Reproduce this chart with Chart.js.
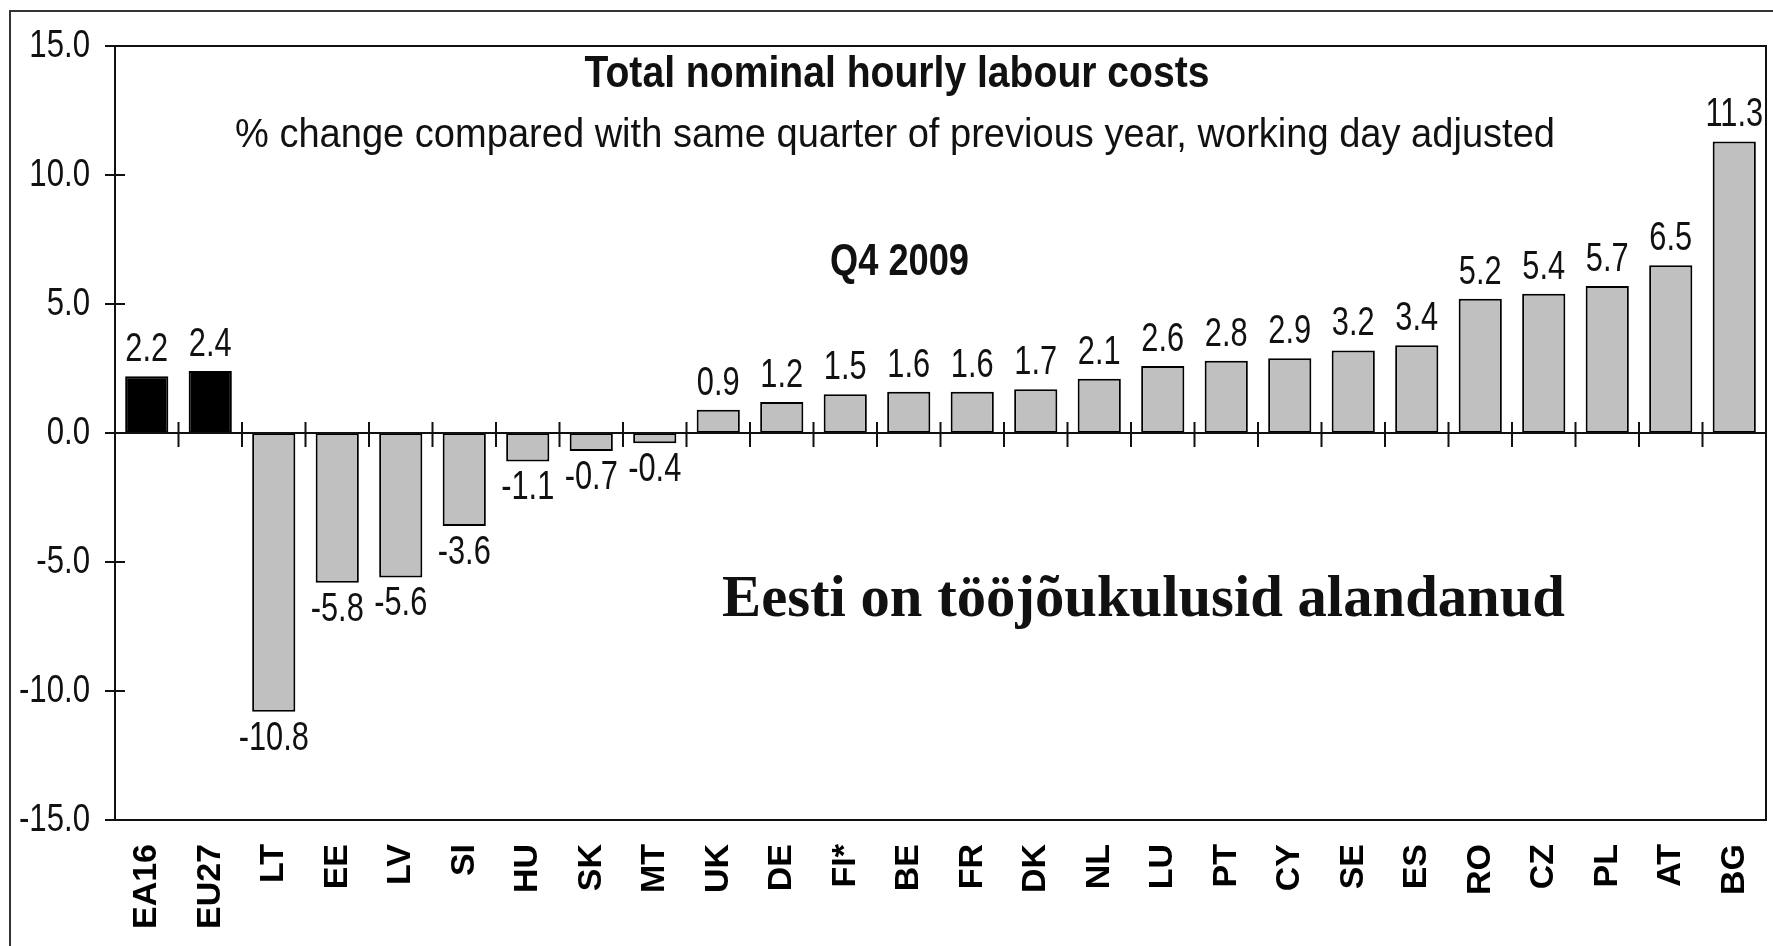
<!DOCTYPE html>
<html>
<head>
<meta charset="utf-8">
<script src="https://cdn.jsdelivr.net/npm/chart.js@4/dist/chart.umd.min.js"></script>
<style>
	body { margin: 0; background: #fff; }
	#wrap { width: 1773px; height: 946px; position: relative; }
</style>
</head>
<body>
<div id="wrap"><canvas id="kulud"></canvas></div>
<script>
// Q4 2009, % change vs same quarter of previous year
const countries = ["EA16", "EU27", "LT", "EE", "LV", "SI", "HU", "SK", "MT", "UK", "DE", "FI*", "BE",
	"FR", "DK", "NL", "LU", "PT", "CY", "SE", "ES", "RO", "CZ", "PL", "AT", "BG"];
const changes = [2.2, 2.4, -10.8, -5.8, -5.6, -3.6, -1.1, -0.7, -0.4, 0.9, 1.2, 1.5, 1.6,
	1.6, 1.7, 2.1, 2.6, 2.8, 2.9, 3.2, 3.4, 5.2, 5.4, 5.7, 6.5, 11.3];
const aggregates = ["EA16", "EU27"];
const yRange = [-15, 15];
const yStep = 5;

const title = "Total nominal hourly labour costs";
const subtitle = "% change compared with same quarter of previous year, working day adjusted";
const period = "Q4 2009";
const note = "Eesti on tööjõukulusid alandanud";

const sans = "'Liberation Sans', Arial, sans-serif";

// the original uses a condensed face, so squeeze text a bit
function squeezed(ctx, s, x, y, k) {
	ctx.fillText(s, x, y, ctx.measureText(s).width * k);
}

const decor = {
	id: "decor",
	afterDatasetsDraw(chart) {
		const { ctx, chartArea: a, scales: { x, y } } = chart;
		ctx.save();
		ctx.strokeStyle = "#111";
		ctx.lineWidth = 2;
		ctx.strokeRect(a.left, a.top, a.right - a.left, a.bottom - a.top);

		const y0 = y.getPixelForValue(0);
		ctx.beginPath();
		ctx.moveTo(a.left, y0);
		ctx.lineTo(a.right, y0);
		y.ticks.forEach((t) => {
			const py = y.getPixelForValue(t.value);
			ctx.moveTo(a.left - 10, py);
			ctx.lineTo(a.left + 10, py);
		});
		for (let i = 1; i < countries.length; i++) {
			const px = (x.getPixelForValue(i - 1) + x.getPixelForValue(i)) / 2;
			ctx.moveTo(px, y0 - 11);
			ctx.lineTo(px, y0 + 14);
		}
		ctx.stroke();

		// outer frame, cut off at right and bottom
		ctx.strokeStyle = "#333";
		ctx.beginPath();
		ctx.moveTo(10, chart.height);
		ctx.lineTo(10, 11);
		ctx.lineTo(chart.width, 11);
		ctx.stroke();

		ctx.fillStyle = "#111";

		// y tick labels
		ctx.font = "38px " + sans;
		ctx.textAlign = "right";
		ctx.textBaseline = "middle";
		y.ticks.forEach((t) => {
			squeezed(ctx, t.value.toFixed(1), a.left - 25, y.getPixelForValue(t.value) + 1, 0.82);
		});

		// value labels
		ctx.font = "40px " + sans;
		ctx.textAlign = "center";
		ctx.textBaseline = "alphabetic";
		chart.getDatasetMeta(0).data.forEach((bar, i) => {
			const v = changes[i];
			const ty = v >= 0 ? bar.y - 15 : bar.y + 38;
			squeezed(ctx, v.toFixed(1), bar.x, ty, 0.77);
		});

		// headings
		ctx.font = "bold 44px " + sans;
		ctx.fillText(title, 897, 87, 625);
		ctx.textAlign = "left";
		ctx.fillText(period, 830, 275, 139);
		ctx.font = "41px " + sans;
		ctx.fillText(subtitle, 235, 147, 1320);
		ctx.font = "bold 59px 'Liberation Serif', 'Times New Roman', serif";
		ctx.fillText(note, 722, 616, 843);
		ctx.restore();
	},
};

const chart = new Chart(document.getElementById("kulud"), {
	type: "bar",
	data: {
		labels: countries,
		datasets: [
			{
				data: changes,
				backgroundColor: countries.map((c) => (aggregates.includes(c) ? "#000000" : "#c0c0c0")),
				borderColor: "#000000",
				borderWidth: 2,
				borderSkipped: false,
				barPercentage: 0.68,
				categoryPercentage: 1,
			},
		],
	},
	options: {
		responsive: true,
		maintainAspectRatio: false,
		animation: false,
		layout: { padding: { top: 46, right: 7, left: 0, bottom: 0 } },
		plugins: {
			legend: { display: false },
			tooltip: { enabled: false },
		},
		scales: {
			x: {
				grid: { display: false, drawTicks: false },
				border: { display: false },
				ticks: {
					autoSkip: false,
					minRotation: 90,
					maxRotation: 90,
					padding: 24,
					color: "#000",
					font: { family: sans, size: 34, weight: "bold" },
				},
				afterFit: (s) => {
					s.height = 126;
					s.paddingLeft = 0;
					s.paddingRight = 0;
				},
			},
			y: {
				min: yRange[0],
				max: yRange[1],
				grid: { display: false, drawTicks: false },
				border: { display: false },
				ticks: { stepSize: yStep, display: false },
				afterFit: (s) => { s.width = 115; },
			},
		},
	},
	plugins: [decor],
});
</script>
</body>
</html>
